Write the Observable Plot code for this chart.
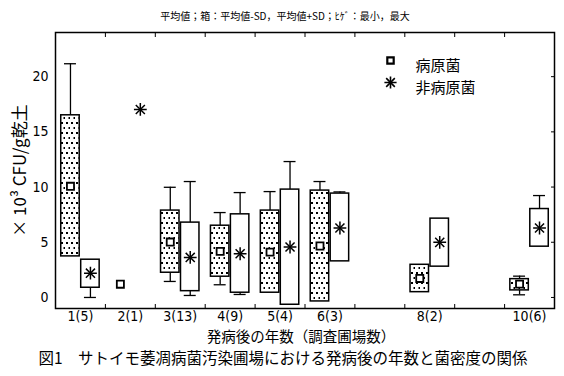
<!DOCTYPE html>
<html><head><meta charset="utf-8">
<script src="https://cdn.jsdelivr.net/npm/d3@7"></script>
<script src="https://cdn.jsdelivr.net/npm/@observablehq/plot@0.6"></script>
<style>
html,body{margin:0;padding:0;background:#fff;}
</style>
</head><body>
<div id="chart"></div>
<script>
// ---- data ----
const years = [1, 2, 3, 4, 5, 6, 8, 10];
const yearLabels = ["1(5)", "2(1)", "3(13)", "4(9)", "5(4)", "6(3)", "8(2)", "10(6)"];
const yTicks = [0, 5, 10, 15, 20];
const yearBounds = [1.5, 2.5, 3.5, 4.5, 5.5, 6.5, 7.5, 8.5, 9.5];

// 病原菌 (pathogen)
const pMean = [10.07, 1.2, 5.02, 4.17, 4.11, 4.66, 1.72, 1.21];
const pLow  = [3.72, null, 2.24, 1.88, 0.43, -0.36, 0.48, 0.64];   // mean - SD
const pHigh = [16.5, null, 7.87, 6.5, 7.87, 9.68, 2.96, 1.66];     // mean + SD
const pMax  = [21.17, null, 9.98, 7.69, 9.59, 10.5, null, 1.93];
const pMin  = [null, null, 1.45, 1.15, null, null, null, 0.24];

// 非病原菌 (non-pathogen)
const nMean = [2.2, 17.03, 3.63, 3.96, 4.57, 6.29, 4.99, 6.29];
const nLow  = [0.88, null, 0.57, 0.43, -0.66, 3.27, 2.79, 4.6];
const nHigh = [3.42, null, 6.78, 7.53, 9.77, 9.41, 7.14, 8.01];
const nMax  = [null, null, 10.5, 9.5, 12.31, 9.56, null, 9.23];
const nMin  = [0.0, null, 0.18, 0.27, null, null, null, null];

const seriesNames = ["病原菌", "非病原菌"];
const titleText = "平均値；箱：平均値-SD，平均値+SD；ﾋｹﾞ：最小，最大";
const yLabel = "× 10³ CFU/g乾土";
const xLabel = "発病後の年数（調査圃場数）";
const caption = "図1　サトイモ萎凋病菌汚染圃場における発病後の年数と菌密度の関係";

// ---- build table ----
const OFF = 0.2, HW = 0.185, CW = 0.12;
function rows(series, mean, low, high, max, min, off) {
  return years.map((yr, i) => ({series, year: yr, x: yr + off, mean: mean[i], low: low[i], high: high[i], max: max[i], min: min[i]}));
}
const P = rows(seriesNames[0], pMean, pLow, pHigh, pMax, pMin, -OFF);
const N = rows(seriesNames[1], nMean, nLow, nHigh, nMax, nMin, OFF);
const all = P.concat(N);
const boxes = all.filter(d => d.low != null);
const upW = all.filter(d => d.max != null);
const loW = all.filter(d => d.min != null);

const jp = "'Noto Sans CJK JP', sans-serif";
const num = "'Liberation Sans Narrow', 'DejaVu Sans Condensed', 'Liberation Sans', sans-serif";

const chart = Plot.plot({
  width: 564, height: 376,
  marginTop: 32, marginRight: 10, marginBottom: 68, marginLeft: 55,
  style: {fontFamily: jp, background: "#fff", color: "#000"},
  x: {domain: [0.5, 10.5]},
  y: {domain: [-1, 24]},
  marks: [
    // whiskers
    Plot.ruleX(upW, {x: "x", y1: "high", y2: "max", stroke: "#000", strokeWidth: 1.3}),
    Plot.ruleY(upW, {y: "max", x1: d => d.x - CW, x2: d => d.x + CW, stroke: "#000", strokeWidth: 1.3}),
    Plot.ruleX(loW, {x: "x", y1: "low", y2: "min", stroke: "#000", strokeWidth: 1.3}),
    Plot.ruleY(loW, {y: "min", x1: d => d.x - CW, x2: d => d.x + CW, stroke: "#000", strokeWidth: 1.3}),
    // boxes
    Plot.rect(boxes, {x1: d => d.x - HW, x2: d => d.x + HW, y1: "low", y2: "high",
      fill: d => d.series === seriesNames[0] ? "url(#dots)" : "#fff", stroke: "#000", strokeWidth: 1.5}),
    // means
    Plot.dot(P, {x: "x", y: "mean", symbol: "square", r: 4, fill: "#fff", stroke: "#000", strokeWidth: 1.8}),
    Plot.dot(N, {x: "x", y: "mean", symbol: "plus", r: 4.2, stroke: "#000", strokeWidth: 1.5}),
    Plot.dot(N, {x: "x", y: "mean", symbol: "times", r: 4.2, stroke: "#000", strokeWidth: 1.5}),
    // frame & axes
    Plot.frame({stroke: "#000", strokeWidth: 1.5}),
    Plot.axisY({anchor: "left", ticks: yTicks, tickSize: 0, tickPadding: 7, label: null, fontSize: 14, fontFamily: num}),
    Plot.axisY({anchor: "right", ticks: yTicks, tickSize: -4, tickFormat: () => "", label: null}),
    Plot.axisX({anchor: "bottom", ticks: years, tickSize: 0, tickPadding: 3, label: null,
      tickFormat: d => yearLabels[years.indexOf(d)], fontSize: 14, fontFamily: num}),
    Plot.axisX({anchor: "bottom", ticks: yearBounds, tickSize: -4, tickFormat: () => "", label: null}),
    Plot.axisX({anchor: "top", ticks: yearBounds, tickSize: -4, tickFormat: () => "", label: null}),
    // legend
    Plot.dot([seriesNames[0]], {frameAnchor: "top-left", dx: 335, dy: 28, symbol: "square", r: 3.6, fill: "#fff", stroke: "#000", strokeWidth: 2.2}),
    Plot.dot([seriesNames[1]], {frameAnchor: "top-left", dx: 335, dy: 50, symbol: "plus", r: 4, stroke: "#000", strokeWidth: 1.6}),
    Plot.dot([seriesNames[1]], {frameAnchor: "top-left", dx: 335, dy: 50, symbol: "times", r: 4, stroke: "#000", strokeWidth: 1.6}),
    Plot.text([seriesNames[0]], {frameAnchor: "top-left", dx: 360, dy: 28, text: d => d, textAnchor: "start", fontSize: 15}),
    Plot.text([seriesNames[1]], {frameAnchor: "top-left", dx: 360, dy: 50, text: d => d, textAnchor: "start", fontSize: 15}),
    // titles
    Plot.text([titleText], {frameAnchor: "top", dx: -20, dy: -20, text: d => d, fontSize: 10}),
    Plot.text([yLabel], {frameAnchor: "left", dx: -35, rotate: -90, textAnchor: "middle", text: d => d, fontSize: 17}),
    Plot.text([xLabel], {frameAnchor: "bottom", dx: -4, dy: 33, text: d => d, fontSize: 14.5}),
    Plot.text([caption], {frameAnchor: "bottom-left", dx: -17, dy: 55, text: d => d, textAnchor: "start", fontSize: 15.5})
  ]
});

// dotted fill pattern for pathogen boxes
const svg = d3.select(chart);
const defs = svg.insert("defs", ":first-child");
const pat = defs.append("pattern").attr("id", "dots").attr("patternUnits", "userSpaceOnUse")
  .attr("width", 5).attr("height", 10);
pat.append("rect").attr("width", 5).attr("height", 10).attr("fill", "#fff");
pat.append("rect").attr("x", 1).attr("y", 2).attr("width", 2).attr("height", 2).attr("fill", "#000");
pat.append("rect").attr("x", 3.5).attr("y", 7).attr("width", 2).attr("height", 2).attr("fill", "#000");

document.getElementById("chart").appendChild(chart);
</script>
</body></html>
